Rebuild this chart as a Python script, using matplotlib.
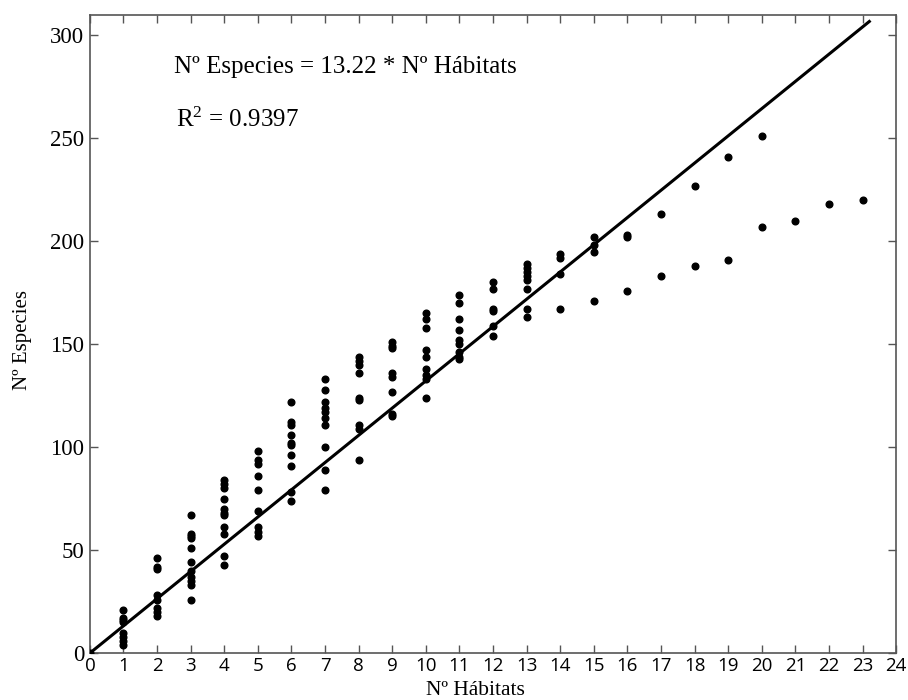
import matplotlib.pyplot as plt

# Species counts observed for each number of habitats (0..23)
habitats = list(range(0, 24))
especies = [
    [0],
    [21, 17, 16, 15, 10, 8, 6, 4],
    [46, 42, 41, 28, 26, 22, 20, 18],
    [67, 58, 57, 56, 51, 44, 40, 37, 35, 33, 26],
    [84, 82, 80, 75, 70, 68, 67, 61, 58, 47, 43],
    [98, 94, 92, 86, 79, 69, 61, 59, 57],
    [122, 112, 111, 106, 102, 101, 96, 91, 78, 74],
    [133, 128, 122, 119, 117, 114, 111, 100, 89, 79],
    [144, 142, 140, 136, 124, 123, 111, 109, 94],
    [151, 149, 148, 136, 134, 127, 116, 115],
    [165, 162, 158, 147, 144, 138, 135, 133, 124],
    [174, 170, 162, 157, 152, 150, 146, 144, 143],
    [180, 177, 167, 166, 159, 154],
    [189, 187, 185, 183, 181, 177, 167, 163],
    [194, 192, 184, 167],
    [202, 198, 195, 171],
    [203, 202, 176],
    [213, 183],
    [227, 188],
    [241, 191],
    [251, 207],
    [210],
    [218],
    [220],
]
pendiente = 13.22
r2 = 0.9397
x_fin = 23.2

plt.rcParams['font.family'] = ['Liberation Serif', 'DejaVu Serif']
plt.rcParams['mathtext.default'] = 'regular'

fig = plt.figure(figsize=(9.08, 7), dpi=100)
ax = fig.add_axes([0.099, 0.067, 0.888, 0.912])

xs = [h for h, vals in zip(habitats, especies) for _ in vals]
ys = [v for vals in especies for v in vals]
ax.plot(xs, ys, 'o', color='black', markersize=4.8, zorder=3)

ax.plot([0, x_fin], [0, pendiente * x_fin], color='black', linewidth=2.2)

ax.set_xlim(0, 24)
ax.set_ylim(0, 310)
ax.set_xticks(range(0, 25))
ax.set_yticks(range(0, 301, 50))
ax.tick_params(direction='in', top=True, right=True, length=6, width=1,
               color='#555555', labelsize=16.5, pad=4)
for lbl in ax.get_xticklabels():
    lbl.set_family(['Open Sans', 'DejaVu Sans'])
    lbl.set_fontsize(13.5)
ax.tick_params(axis='x', pad=3)
for sp in ax.spines.values():
    sp.set_color('#555555')
    sp.set_linewidth(1.2)

ax.set_xlabel('Nº Hábitats', fontsize=15.5, labelpad=0)
ax.xaxis.set_label_coords(0.478, -0.043)
ax.set_ylabel('Nº Especies', fontsize=15, labelpad=0)
ax.yaxis.set_label_coords(-0.072, 0.49)

ax.text(2.5, 284.5, f'Nº Especies = {pendiente} * Nº Hábitats', fontsize=18,
        va='center', ha='left')
ax.text(2.55, 259, f'R$^2$ = {r2}', fontsize=18, va='center', ha='left')

fig.savefig('out.png', dpi=100)
